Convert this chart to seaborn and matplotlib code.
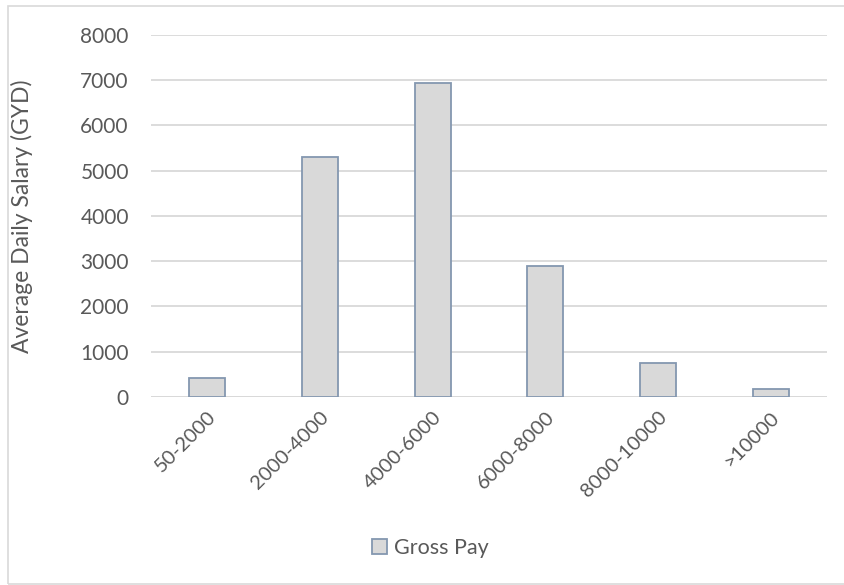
import matplotlib
matplotlib.use("Agg")
import matplotlib.pyplot as plt
import seaborn as sns
import pandas as pd
from matplotlib.patches import Rectangle, Patch

# Salary bands and average daily gross pay per band
categories = ["50-2000", "2000-4000", "4000-6000", "6000-8000", "8000-10000", ">10000"]
gross_pay = [430, 5300, 6940, 2890, 740, 175]
y_ticks = [0, 1000, 2000, 3000, 4000, 5000, 6000, 7000, 8000]

sns.set_theme(style="white")
plt.rcParams["font.family"] = ["Lato", "DejaVu Sans"]

text_col = "#595959"
grid_col = "#D9D9D9"
bar_fill = "#D9D9D9"
bar_edge = "#8497B0"

df = pd.DataFrame({"band": categories, "pay": gross_pay})

fig = plt.figure(figsize=(8.44, 5.85), dpi=100)
ax = fig.add_axes([0.179, 0.3214, 0.801, 0.6188])

sns.barplot(data=df, x="band", y="pay", ax=ax, color=bar_fill,
            edgecolor=bar_edge, linewidth=1.3, width=0.32, saturation=1)

ax.set_ylim(0, 8000)
ax.set_xlim(-0.5, len(categories) - 0.5)
ax.set_yticks(y_ticks)
ax.set_yticklabels([str(v) for v in y_ticks], fontsize=15, color=text_col)
ax.yaxis.grid(True, color=grid_col, linewidth=1.3)
ax.set_axisbelow(True)
for s in ax.spines.values():
    s.set_visible(False)
ax.axhline(0, color=grid_col, linewidth=1.3, zorder=0.5)
ax.tick_params(axis="both", length=0, pad=8)
ax.tick_params(axis="y", pad=16)

ax.set_xticks(range(len(categories)))
ax.set_xticklabels(categories, rotation=45, ha="right", rotation_mode="anchor",
                   fontsize=14.5, color=text_col)
ax.set_xlabel("")
ax.set_ylabel("Average Daily Salary (GYD)", fontsize=16.5, color=text_col, labelpad=34)

# Legend below the plot
handle = Patch(facecolor=bar_fill, edgecolor=bar_edge, linewidth=1.3)
fig.legend([handle], ["Gross Pay"], loc="center", bbox_to_anchor=(0.51, 0.063),
           frameon=False, fontsize=15.5, labelcolor=text_col,
           handlelength=0.7, handleheight=0.7, handletextpad=0.3)

# Chart border
fig.patches.append(Rectangle((8 / 844, 0.002), 1.0, 0.988, transform=fig.transFigure,
                             fill=False, edgecolor=grid_col, linewidth=1.2))

fig.savefig("out.png", dpi=100, facecolor="white")
